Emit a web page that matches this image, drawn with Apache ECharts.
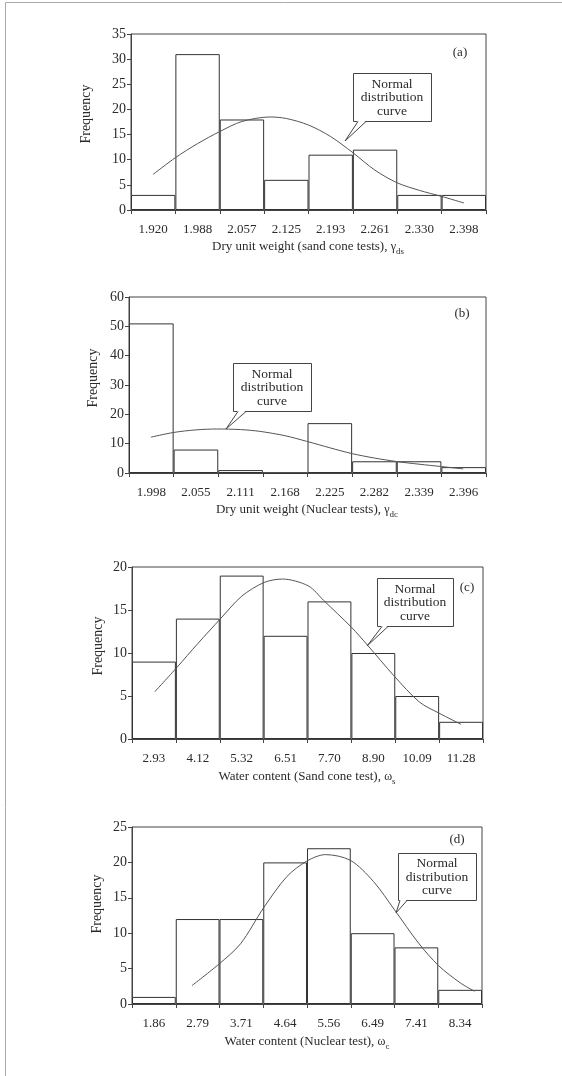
<!DOCTYPE html>
<html>
<head>
<meta charset="utf-8">
<script src="https://cdn.jsdelivr.net/npm/echarts@6/dist/echarts.min.js"></script>
<style>
  html, body { margin: 0; padding: 0; background: #fff; }
  #chart { width: 562px; height: 1076px; }
</style>
</head>
<body>
<div id="chart"></div>
<script>
// tick labels under each bin
const labelsA = ['1.920', '1.988', '2.057', '2.125', '2.193', '2.261', '2.330', '2.398'];
const labelsB = ['1.998', '2.055', '2.111', '2.168', '2.225', '2.282', '2.339', '2.396'];
const labelsC = ['2.93', '4.12', '5.32', '6.51', '7.70', '8.90', '10.09', '11.28'];
const labelsD = ['1.86', '2.79', '3.71', '4.64', '5.56', '6.49', '7.41', '8.34'];

// histogram frequencies
const freqA = [3, 31, 18, 6, 11, 12, 3, 3];
const freqB = [51, 8, 1, 0, 17, 4, 4, 2];
const freqC = [9, 14, 19, 12, 16, 10, 5, 2];
const freqD = [1, 12, 12, 20, 22, 10, 8, 2];

// normal curve: [position in bins, frequency]
const curveA = [[0.5, 7.1], [1.0, 10.4], [1.5, 13.2], [2.0, 15.6], [2.5, 17.6], [3.13, 18.5], [3.5, 18.2],
  [4.0, 16.9], [4.5, 14.6], [5.0, 11.4], [5.5, 7.9], [6.0, 5.4], [6.5, 3.9], [7.0, 2.7], [7.5, 1.4]];
const curveB = [[0.49, 12.2], [0.99, 13.8], [1.5, 14.7], [1.96, 15.0], [2.5, 14.8], [2.93, 14.2], [3.5, 12.7],
  [3.98, 10.8], [4.5, 8.6], [5.0, 6.6], [5.5, 5.1], [6.0, 3.9], [6.5, 3.0], [7.0, 2.2], [7.49, 1.4]];
const curveC = [[0.52, 5.5], [1.02, 8.3], [1.5, 11.1], [2.02, 14.0], [2.5, 16.6], [3.01, 18.2], [3.43, 18.6],
  [4.02, 17.8], [4.37, 16.1], [5.0, 13.0], [5.37, 10.9], [5.98, 7.3], [6.55, 4.3], [7.0, 3.0], [7.5, 1.7]];
const curveD = [[1.37, 2.6], [2.0, 5.7], [2.48, 8.5], [3.01, 13.6], [3.54, 18.0], [4.0, 20.2], [4.42, 21.1],
  [4.99, 20.3], [5.52, 17.3], [6.0, 13.3], [6.55, 8.6], [7.01, 5.4], [7.5, 3.0], [7.83, 1.8]];

const yMax = [35, 60, 20, 25];
const yStep = [5, 10, 5, 5];

const FONT = 'Liberation Serif';
const INK = '#2b2b2b';
const LINE = '#444';

const panels = [
  { labels: labelsA, freq: freqA, curve: curveA, grid: { left: 131, top: 34, width: 355, height: 176 } },
  { labels: labelsB, freq: freqB, curve: curveB, grid: { left: 129, top: 297, width: 357, height: 176 } },
  { labels: labelsC, freq: freqC, curve: curveC, grid: { left: 132, top: 567, width: 351, height: 172 } },
  { labels: labelsD, freq: freqD, curve: curveD, grid: { left: 132, top: 827, width: 350, height: 177 } }
];

const grid = [], xAxis = [], yAxis = [], series = [];
panels.forEach(function (p, i) {
  grid.push(Object.assign({ show: true, borderColor: LINE, borderWidth: 1, backgroundColor: 'transparent' }, p.grid));
  xAxis.push({
    type: 'category', gridIndex: i, data: p.labels, boundaryGap: true,
    axisLine: { lineStyle: { color: LINE, width: 1 } },
    axisTick: { show: true, length: 4, lineStyle: { color: LINE } },
    axisLabel: { interval: 0, margin: 13, color: INK, fontFamily: FONT, fontSize: 13 },
    splitLine: { show: false }
  });
  xAxis.push({ type: 'value', gridIndex: i, min: 0, max: 8, show: false });
  yAxis.push({
    type: 'value', gridIndex: i, min: 0, max: yMax[i], interval: yStep[i],
    axisLine: { show: true, lineStyle: { color: LINE, width: 1 } },
    axisTick: { show: true, length: 4, lineStyle: { color: LINE } },
    axisLabel: { margin: 5, color: INK, fontFamily: FONT, fontSize: 14 },
    splitLine: { show: false }
  });
  series.push({
    type: 'bar', xAxisIndex: i * 2, yAxisIndex: i, data: p.freq,
    barCategoryGap: '0%',
    itemStyle: { color: '#fff', borderColor: '#333', borderWidth: 1 },
    silent: true
  });
  series.push({
    type: 'line', xAxisIndex: i * 2 + 1, yAxisIndex: i, data: p.curve,
    smooth: 0.3, symbol: 'none',
    lineStyle: { color: '#555', width: 1 },
    silent: true, z: 5
  });
});

const graphic = [];
// page frame
graphic.push({ type: 'line', shape: { x1: 5.5, y1: 2.5, x2: 562, y2: 2.5 }, style: { stroke: '#aaa', lineWidth: 1 } });
graphic.push({ type: 'line', shape: { x1: 5.5, y1: 2.5, x2: 5.5, y2: 1076 }, style: { stroke: '#aaa', lineWidth: 1 } });

// axis titles with subscripts
function title(x, y, main, greek, sub) {
  graphic.push({
    type: 'text', x: x, y: y, z: 10,
    style: {
      text: '{m|' + main + '}{g|' + greek + '}{s|' + sub + '}',
      align: 'center', verticalAlign: 'middle',
      rich: {
        m: { fontFamily: FONT, fontSize: 13, fill: INK, lineHeight: 18, verticalAlign: 'middle' },
        g: { fontFamily: FONT, fontSize: 12, fill: INK, lineHeight: 18, verticalAlign: 'middle' },
        s: { fontFamily: FONT, fontSize: 9, fill: INK, lineHeight: 18, verticalAlign: 'bottom' }
      }
    }
  });
}
title(308, 247, 'Dry unit weight (sand cone tests), ', 'γ', 'ds');
title(307, 510, 'Dry unit weight (Nuclear tests), ', 'γ', 'dc');
title(307, 777, 'Water content (Sand cone test), ', 'ω', 's');
title(307, 1042, 'Water content (Nuclear test), ', 'ω', 'c');

// rotated y-axis names
[[86, 114], [93, 378], [98, 646], [97, 904]].forEach(function (c) {
  graphic.push({
    type: 'text', x: c[0], y: c[1], rotation: Math.PI / 2, z: 10,
    style: { text: 'Frequency', fontFamily: FONT, fontSize: 14, fill: INK, align: 'center', verticalAlign: 'middle' }
  });
});

// panel tags
[['(a)', 460, 53], ['(b)', 462, 314], ['(c)', 467, 588], ['(d)', 457, 840]].forEach(function (t) {
  graphic.push({
    type: 'text', x: t[1], y: t[2], z: 10,
    style: { text: t[0], fontFamily: FONT, fontSize: 13, fill: INK, align: 'center', verticalAlign: 'middle' }
  });
});

// callout boxes "Normal distribution curve"
function callout(bx, by, bw, bh, b1, b2, tip) {
  graphic.push({
    type: 'rect', z: 20, shape: { x: bx + 0.5, y: by + 0.5, width: bw, height: bh },
    style: { fill: '#fff', stroke: LINE, lineWidth: 1 }
  });
  graphic.push({
    type: 'text', x: bx + bw / 2, y: by + bh / 2 + 0.5, z: 21,
    style: { text: 'Normal\ndistribution\ncurve', fontFamily: FONT, fontSize: 13.5, lineHeight: 13.5, fill: INK, align: 'center', verticalAlign: 'middle' }
  });
  graphic.push({
    type: 'polygon', z: 21, shape: { points: [[b1, by + bh - 0.5], [tip[0], tip[1]], [b2, by + bh - 0.5]] },
    style: { fill: '#fff', stroke: null }
  });
  graphic.push({
    type: 'polyline', z: 22, shape: { points: [[b1, by + bh + 0.5], [tip[0], tip[1]], [b2, by + bh + 0.5]] },
    style: { fill: null, stroke: LINE, lineWidth: 1 }
  });
}
callout(353, 73, 78, 48, 358, 366, [345, 141]);
callout(233, 363, 78, 48, 238, 246, [226, 429]);
callout(377, 578, 76, 48, 382, 388, [367, 646]);
callout(398, 853, 78, 47, 400, 407, [396, 913]);

const chart = echarts.init(document.getElementById('chart'), null, { renderer: 'canvas' });
chart.setOption({
  animation: false,
  backgroundColor: '#fff',
  grid: grid,
  xAxis: xAxis,
  yAxis: yAxis,
  series: series,
  graphic: graphic
});
</script>
</body>
</html>
